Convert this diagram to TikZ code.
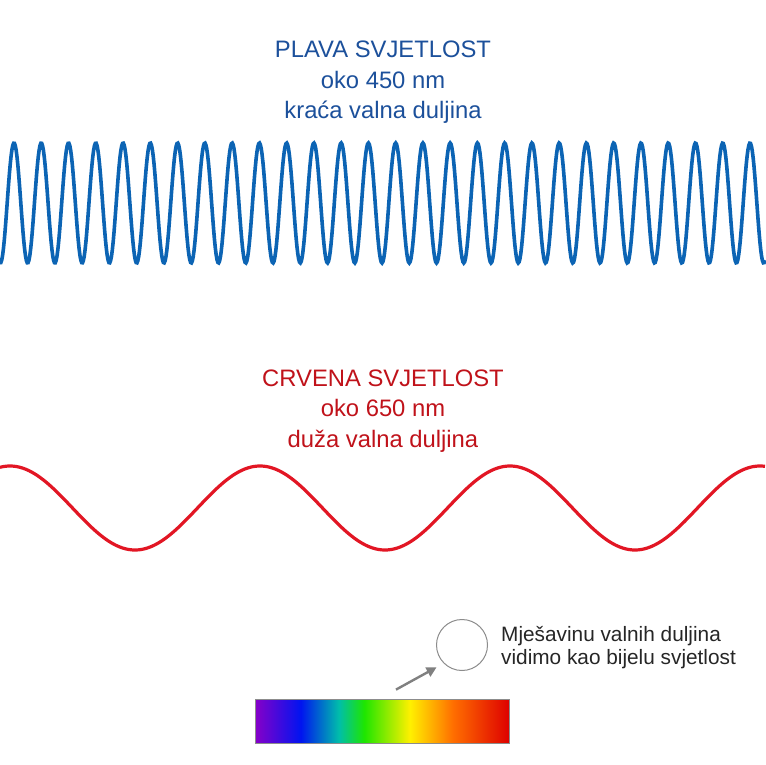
\documentclass[tikz,border=0pt]{standalone}
\usepackage{fontspec}
\setmainfont{Liberation Sans}
\usetikzlibrary{arrows.meta}
\definecolor{waveblue}{RGB}{12,100,180}
\definecolor{textblue}{RGB}{28,80,155}
\definecolor{wavered}{RGB}{226,22,36}
\definecolor{textred}{RGB}{192,18,26}
\definecolor{specviolet}{RGB}{135,0,200}
\definecolor{specblue}{RGB}{0,20,240}
\definecolor{speccyan}{RGB}{0,190,170}
\definecolor{specgreen}{RGB}{30,230,0}
\definecolor{specyellow}{RGB}{255,240,0}
\definecolor{specorange}{RGB}{255,110,0}
\definecolor{specred}{RGB}{222,0,0}
\pgfdeclarehorizontalshading{spectrum}{100bp}{color(0bp)=(specviolet); color(25bp)=(specviolet);
  color(34bp)=(specblue); color(41.5bp)=(speccyan); color(46.5bp)=(specgreen);
  color(55.5bp)=(specyellow); color(64bp)=(specorange); color(75bp)=(specred); color(100bp)=(specred)}

\begin{document}
\begin{tikzpicture}[
    x=1pt, y=-1pt,
    title/.style={
      font=\fontsize{23.8}{30.5}\selectfont, align=center, inner sep=0pt,
    },
    bluetext/.style={title, text=textblue},
    redtext/.style={title, text=textred},
    bluewave/.style={waveblue, line width=3.6pt},
    redwave/.style={wavered, line width=3.2pt},
    specbar/.style={
      rectangle, draw=black!45, line width=0.8pt, shading=spectrum,
      minimum width=254pt, minimum height=44pt, inner sep=0pt,
    },
    whitedot/.style={
      circle, draw=black!45, line width=1pt, fill=white,
      minimum size=51pt, inner sep=0pt,
    },
    caption/.style={
      font=\fontsize{20.8}{23}\selectfont, align=left, text=black!85, inner sep=0pt,
    },
    pointer/.style={-{Triangle[length=10pt, width=10pt]}, black!50, line width=2.4pt},
]
\useasboundingbox[fill=white] (0,0) rectangle (765,765);

\node[bluetext] (blueTitle) at (383,82.5) {PLAVA SVJETLOST\\oko 450 nm\\kraća valna duljina};
\draw[bluewave] plot[domain=0:765, samples=900] (\x, {203 - 60*cos(13.206*(\x-14))});

\node[redtext] (redTitle) at (383,411) {CRVENA SVJETLOST\\oko 650 nm\\duža valna duljina};
\draw[redwave] plot[domain=0:765, samples=400, smooth] (\x, {508 - 42*cos(1.44*(\x-10))});

% mixture of wavelengths -> white light
\node[specbar] (spectrum) at (382,721) {};
\node[whitedot] (mix) at (462,645) {};
\node[caption, anchor=west] (mixText) at (501,648) {Mješavinu valnih duljina\\vidimo kao bijelu svjetlost};

\coordinate (arrowStart) at ([xshift=14pt, yshift=9pt]spectrum.north);
\draw[pointer, shorten >=8pt] (arrowStart) -- (mix.south west);

\end{tikzpicture}
\end{document}
